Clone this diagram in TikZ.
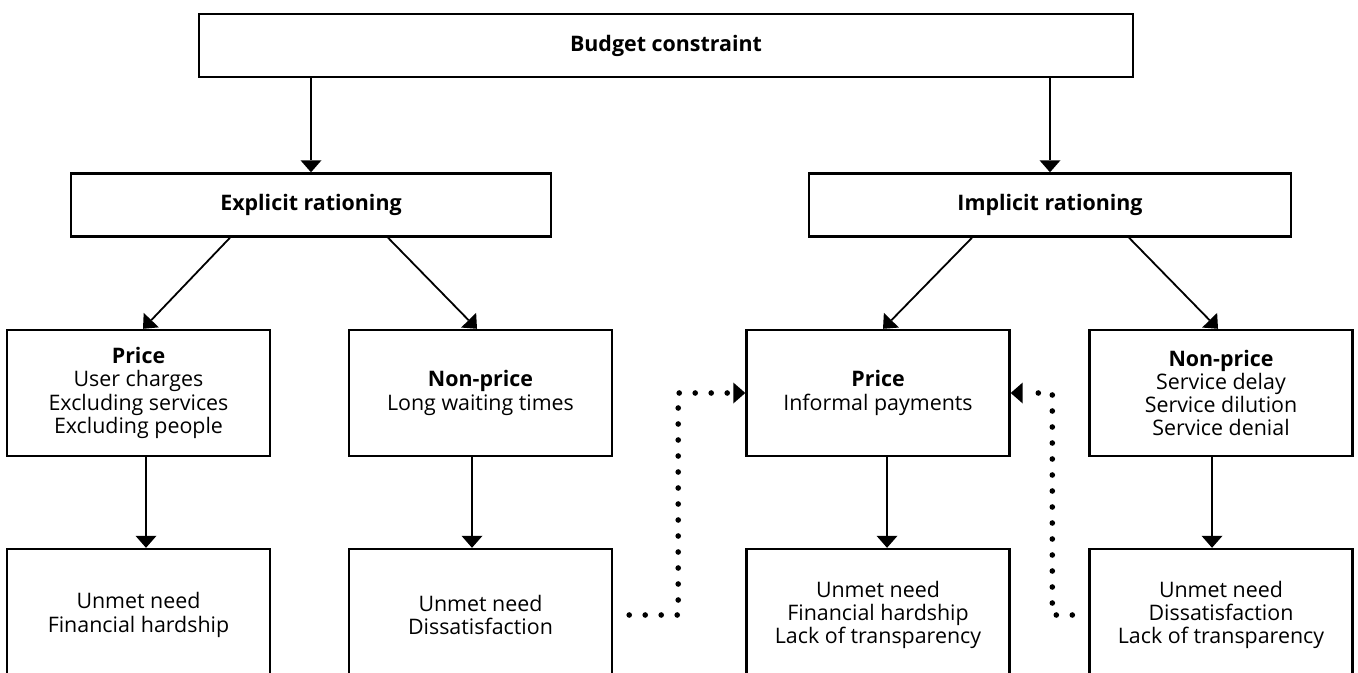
\documentclass[tikz,border=0pt]{standalone}
\usepackage{fontspec}
\setmainfont{Open Sans}
\usetikzlibrary{positioning,arrows.meta}

\begin{document}
\begin{tikzpicture}[
    every node/.style={font=\fontsize{10.7}{11.6}\selectfont, text=black},
    box/.style={draw=black, line width=1.2pt, align=center, inner sep=2pt},
    wide/.style={box, minimum height=31.5pt},
    cell/.style={box, minimum width=131.5pt, minimum height=63pt},
    outcome/.style={box, minimum width=131.5pt, minimum height=66pt},
    arr/.style={line width=0.9pt, -{Triangle[width=10.5pt,length=6pt,line width=0pt]}},
    dots/.style={line width=2.8pt, line cap=round, dash pattern=on 0pt off 8pt,
        -{Triangle[width=10.5pt,length=6pt,line width=0pt]}},
    node distance=94pt
    ]
    \useasboundingbox (0,0) rectangle (679pt,-336.5pt);

    %% Budget and the two kinds of rationing
    \node[wide, minimum width=467pt](budget) at (333pt,-22.75pt){\textbf{Budget constraint}};
    \node[wide, minimum width=240pt](expl)[node distance=79.75pt, below of=budget, xshift=-177.5pt]{\textbf{Explicit rationing}};
    \node[wide, minimum width=241pt](impl)[node distance=79.75pt, below of=budget, xshift=192pt]{\textbf{Implicit rationing}};
    \draw[arr] ([xshift=-177.5pt]budget.south) -- (expl.north);
    \draw[arr] ([xshift=192pt]budget.south) -- (impl.north);

    %% Explicit: price and non-price
    \node[cell](pA)[below of=expl, xshift=-86.25pt]{\textbf{Price}\\User charges\\Excluding services\\Excluding people};
    \node[cell](pB)[below of=expl, xshift=84.75pt]{\textbf{Non-price}\\Long waiting times};
    \draw[arr] ([xshift=-40.5pt]expl.south) -- ([xshift=2.25pt]pA.north);
    \draw[arr] ([xshift=38.5pt]expl.south) -- ([xshift=-1.75pt]pB.north);

    %% Implicit: price and non-price
    \node[cell](pC)[below of=impl, xshift=-86pt]{\textbf{Price}\\Informal payments};
    \node[cell](pD)[below of=impl, xshift=85.5pt]{\textbf{Non-price}\\Service delay\\Service dilution\\Service denial};
    \draw[arr] ([xshift=-39pt]impl.south) -- ([xshift=2.5pt]pC.north);
    \draw[arr] ([xshift=39.5pt]impl.south) -- ([xshift=-1.5pt]pD.north);

    %% Outcomes
    \node[outcome](uA)[node distance=111pt, below of=pA]{Unmet need\\Financial hardship};
    \node[outcome](uB)[node distance=111pt, below of=pB]{Unmet need\\Dissatisfaction};
    \node[outcome](uC)[node distance=111pt, below of=pC]{Unmet need\\Financial hardship\\Lack of transparency};
    \node[outcome](uD)[node distance=111pt, below of=pD]{Unmet need\\Dissatisfaction\\Lack of transparency};
    \draw[arr] ([xshift=3.75pt]pA.south) -- ([xshift=3.75pt]uA.north);
    \draw[arr] ([xshift=-4.25pt]pB.south) -- ([xshift=-4.25pt]uB.north);
    \draw[arr] ([xshift=4.5pt]pC.south) -- ([xshift=4.5pt]uC.north);
    \draw[arr] ([xshift=-4.5pt]pD.south) -- ([xshift=-4.5pt]uD.north);

    % feedback into informal payments
    \draw[dots, shorten <=8pt] (uB.east) -- ++(32.5pt,0) |- (pC.west);
    \draw[dots, shorten <=8pt] (uD.west) -- ++(-18pt,0) |- (pC.east);
\end{tikzpicture}
\end{document}
